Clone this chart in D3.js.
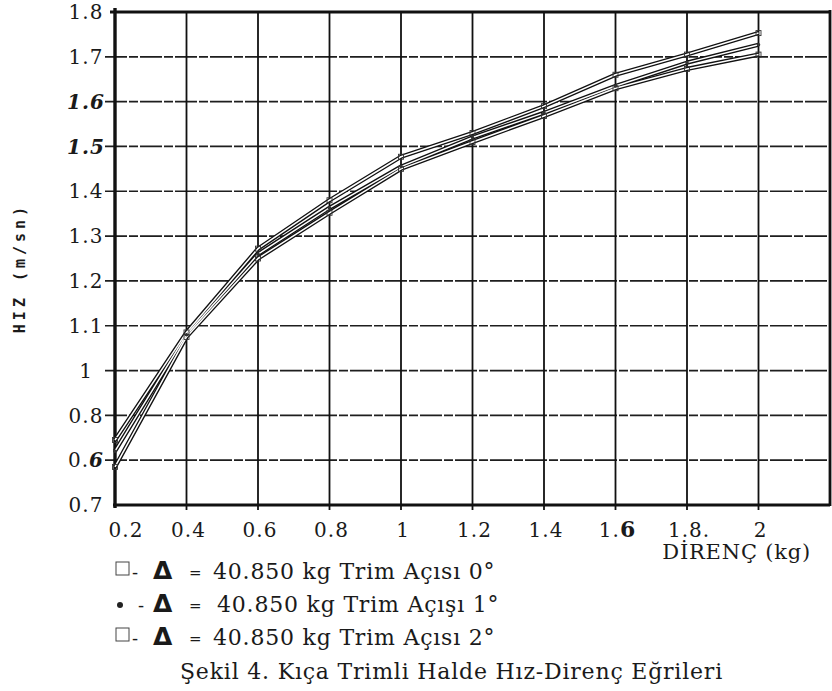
<!DOCTYPE html>
<html>
<head>
<meta charset="utf-8">
<script src="https://cdn.jsdelivr.net/npm/d3@7"></script>
<style>
  body { margin: 0; background: #fff; }
  svg { display: block; }
  text { font-family: "DejaVu Serif", "Liberation Serif", serif; fill: #1a1a1a; }
</style>
</head>
<body>
<svg id="chart" width="832" height="691"></svg>
<script>
// direnç (kg)
const direnc = [0.2, 0.4, 0.6, 0.8, 1.0, 1.2, 1.4, 1.6, 1.8, 2.0];
// hız (m/sn) for each trim angle
const trim0 = [0.845, 1.085, 1.272, 1.380, 1.477, 1.530, 1.590, 1.660, 1.705, 1.753];
const trim1 = [0.820, 1.080, 1.260, 1.363, 1.455, 1.520, 1.575, 1.635, 1.687, 1.727];
const trim2 = [0.785, 1.075, 1.250, 1.352, 1.450, 1.510, 1.568, 1.630, 1.673, 1.705];

const xTickLabels = ["0.2", "0.4", "0.6", "0.8", "1", "1.2", "1.4", "1.6", "1.8.", "2"];
// printed labels, bottom to top (as they appear on the scan)
const yTickLabels = ["0.7", "0.6", "0.8", "1", "1.1", "1.2", "1.3", "1.4", "1.5", "1.6", "1.7", "1.8"];

const legendLabels = [
  "40.850 kg Trim Açısı 0°",
  "40.850 kg Trim Açışı 1°",
  "40.850 kg Trim Açısı 2°"
];

const svg = d3.select("#chart");

const x = d3.scaleLinear().domain([0.2, 2.2]).range([115, 830]);
const y = d3.scaleLinear().domain([0.7, 1.8]).range([505, 12]);

const yTicks = d3.range(12).map(i => +(0.7 + i * 0.1).toFixed(1));

// horizontal grid
svg.append("g")
  .selectAll("line")
  .data(yTicks.slice(1, -1))
  .join("line")
  .attr("x1", 105)
  .attr("x2", 828)
  .attr("y1", d => y(d))
  .attr("y2", d => y(d))
  .attr("stroke", "#1e1e1e")
  .attr("stroke-width", 1.7)
  .attr("stroke-dasharray", "22,2,9,2");

// vertical grid
svg.append("g")
  .selectAll("line")
  .data(direnc.slice(1))
  .join("line")
  .attr("x1", d => x(d))
  .attr("x2", d => x(d))
  .attr("y1", y(1.8))
  .attr("y2", y(0.7) + 5)
  .attr("stroke", "#111")
  .attr("stroke-width", 1.8);

// frame
const frame = svg.append("g").attr("stroke", "#111");
frame.append("line").attr("x1", 115).attr("x2", 115).attr("y1", 8).attr("y2", 508).attr("stroke-width", 3.4);
frame.append("line").attr("x1", 110).attr("x2", 830).attr("y1", y(1.8)).attr("y2", y(1.8)).attr("stroke-width", 2.8);
frame.append("line").attr("x1", 113).attr("x2", 830).attr("y1", y(0.7)).attr("y2", y(0.7)).attr("stroke-width", 3.2);
frame.append("line").attr("x1", 830).attr("x2", 830).attr("y1", 10).attr("y2", 506).attr("stroke-width", 2.8);

// y tick labels
svg.append("g")
  .selectAll("text")
  .data(yTicks)
  .join("text")
  .attr("x", 86)
  .attr("y", d => y(d))
  .attr("dy", "0.36em")
  .attr("text-anchor", "middle")
  .attr("font-size", 20)
  .attr("letter-spacing", 1)
  .attr("font-weight", (d, i) => (yTickLabels[i] === "1.6" || yTickLabels[i] === "1.5") ? "bold" : null)
  .attr("font-style", (d, i) => (yTickLabels[i] === "1.6" || yTickLabels[i] === "1.5") ? "italic" : null)
  .each(function(d, i) {
    const t = d3.select(this);
    const lab = yTickLabels[i];
    if (lab === "0.6") {
      t.append("tspan").text("0.");
      t.append("tspan").attr("font-weight", "bold").attr("font-style", "italic").text("6");
    } else {
      t.text(lab);
    }
  });

// x tick labels
svg.append("g")
  .selectAll("text")
  .data(direnc)
  .join("text")
  .attr("x", (d, i) => x(d) + (i === 0 ? 11 : 2))
  .attr("y", 537)
  .attr("text-anchor", "middle")
  .attr("font-size", 20)
  .attr("letter-spacing", 1)
  .each(function(d, i) {
    const t = d3.select(this);
    const lab = xTickLabels[i];
    if (lab === "1.6") {
      t.append("tspan").text("1.");
      t.append("tspan").attr("font-weight", "bold").attr("font-size", 22).text("6");
    } else {
      t.text(lab);
    }
  });

// axis titles
svg.append("text")
  .attr("x", 811)
  .attr("y", 559)
  .attr("text-anchor", "end")
  .attr("font-size", 21)
  .attr("letter-spacing", 0.8)
  .text("DİRENÇ (kg)");

svg.append("text")
  .attr("transform", "translate(25,268) rotate(-90)")
  .attr("text-anchor", "middle")
  .attr("font-weight", "bold")
  .attr("font-size", 15)
  .attr("letter-spacing", 4)
  .style("font-family", "'DejaVu Sans Mono', monospace")
  .text("HIZ (m/sn)");

// curves
const series = [trim0, trim1, trim2];
const line = d3.line()
  .x((d, i) => x(direnc[i]))
  .y(d => y(d));

const curves = svg.append("g").attr("fill", "none");
curves.selectAll("path.outer")
  .data(series)
  .join("path")
  .attr("class", "outer")
  .attr("d", line)
  .attr("stroke", "#111")
  .attr("stroke-width", 4.2)
  .attr("stroke-linejoin", "round");
curves.selectAll("path.inner")
  .data(series)
  .join("path")
  .attr("class", "inner")
  .attr("d", line)
  .attr("stroke", "#fff")
  .attr("stroke-width", 1.5)
  .attr("stroke-linejoin", "round");

// small markers at measured points
series.forEach((s, k) => {
  const g = svg.append("g");
  if (k === 1) {
    g.selectAll("circle")
      .data(s)
      .join("circle")
      .attr("cx", (d, i) => x(direnc[i]))
      .attr("cy", d => y(d))
      .attr("r", 1.8)
      .attr("fill", "#333");
  } else {
    g.selectAll("rect")
      .data(s)
      .join("rect")
      .attr("x", (d, i) => x(direnc[i]) - 2.5)
      .attr("y", d => y(d) - 2.5)
      .attr("width", 5)
      .attr("height", 5)
      .attr("fill", "none")
      .attr("stroke", "#333")
      .attr("stroke-width", 0.9);
  }
});

// legend
const legendY = [579, 612, 645];
const lg = svg.append("g");
legendLabels.forEach((lab, i) => {
  const row = lg.append("g").attr("transform", `translate(0,${legendY[i]})`);
  if (i === 1) {
    row.append("circle").attr("cx", 120).attr("cy", -7).attr("r", 3).attr("fill", "#222");
    row.append("text").attr("x", 138).attr("y", 0).attr("font-size", 18).text("-");
  } else {
    row.append("rect").attr("x", 116).attr("y", -17).attr("width", 13).attr("height", 13)
      .attr("fill", "none").attr("stroke", "#444").attr("stroke-width", 1);
    row.append("text").attr("x", 132).attr("y", 0).attr("font-size", 18).text("-");
  }
  row.append("text")
    .attr("x", 153)
    .attr("y", 0)
    .style("font-family", "'DejaVu Sans', sans-serif")
    .attr("font-weight", "bold")
    .attr("font-size", 25)
    .text("Δ");
  row.append("text").attr("x", 189).attr("y", -1).attr("font-size", 15).text("=");
  row.append("text")
    .attr("x", i === 1 ? 217 : 213)
    .attr("y", 0)
    .attr("font-size", 22)
    .attr("letter-spacing", 0.8)
    .text(lab);
});

svg.append("text")
  .attr("x", 180)
  .attr("y", 679)
  .attr("font-size", 22)
  .attr("letter-spacing", 0.8)
  .text("Şekil 4. Kıça Trimli Halde Hız-Direnç Eğrileri");
</script>
</body>
</html>
